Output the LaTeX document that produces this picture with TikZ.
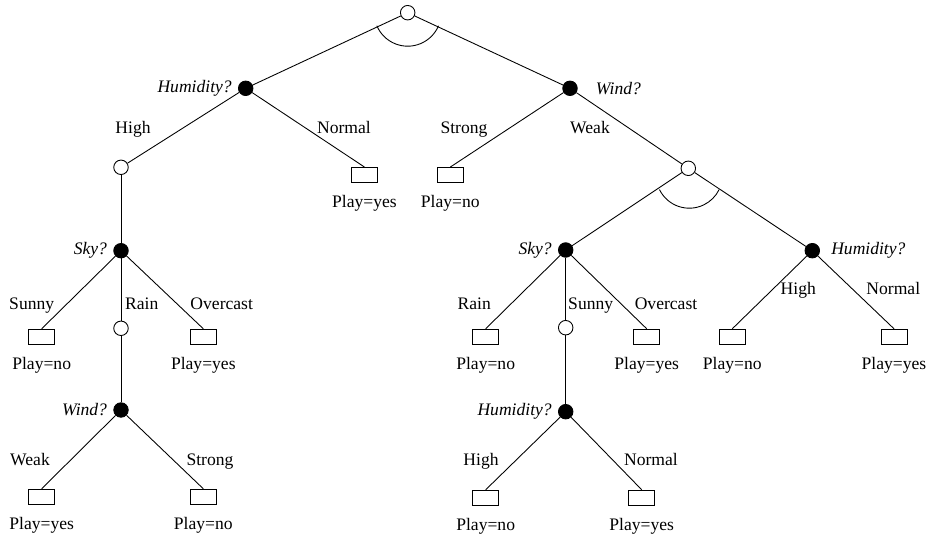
\documentclass[tikz,border=0pt]{standalone}
\usepackage{fontspec}
\setmainfont{Liberation Serif}
\begin{document}
\begin{tikzpicture}[x=0.02cm, y=-0.02cm, line width=0.5pt,
    font=\fontsize{10}{12}\selectfont,
    andnode/.style={circle, draw, fill=white, minimum size=0.29cm, inner sep=0pt},
    attr/.style={circle, draw, fill=black, minimum size=0.29cm, inner sep=0pt},
    question/.style={font=\fontsize{10}{12}\selectfont\itshape},
    askleft/.style={attr, label={[question]left:#1}},
    askright/.style={attr, label={[question, label distance=0.1cm]right:#1}},
    outcome/.style={label distance=0.12cm},
    leaf/.style={draw, rectangle, minimum width=0.52cm, minimum height=0.3cm,
                 inner sep=0pt, label={[outcome]below:Play=#1}},
    branch/.style={anchor=base, inner sep=0pt}]

    \useasboundingbox (0,0) rectangle (938,537);

    % Root
    \node[andnode] (root) at (407.7,12.7) {};
    \node[askleft=Humidity?] (hum) at (245.7,88.3) {};
    \node[attr, label={[question, label distance=0.24cm]right:Wind?}] (wind) at (570,88.3) {};
    \draw (root) -- (hum);
    \draw (root) -- (wind);
    % and-arcs
    \draw (root.center) ++(203:0.67cm) arc[start angle=203, end angle=337, radius=0.67cm];

    % Humidity branches
    \node[andnode] (andL) at (121,167.3) {};
    \node[leaf=yes] (leafN) at (364.5,175) {};
    \draw (hum) -- (andL);
    \draw (hum) -- (leafN.north);
    \node[branch] (bHigh) at (133,134) {High};
    \node[branch] (bNormal) at (344,134) {Normal};

    % Wind branches
    \node[leaf=no] (leafS) at (450.3,175) {};
    \node[andnode] (andR) at (688.3,168.3) {};
    \draw (wind) -- (leafS.north);
    \draw (wind) -- (andR);
    \node[branch] (bStrong) at (464,134) {Strong};
    \node[branch] (bWeak) at (590,134) {Weak};

    % Left subtree
    \node[askleft=Sky?] (skyL) at (121,250.7) {};
    \node[leaf=no] (leafLS) at (41.7,336.7) {};
    \node[andnode] (andLR) at (121,328.3) {};
    \node[leaf=yes] (leafLO) at (203.3,336.7) {};
    \draw (andL) -- (skyL);
    \draw (skyL) -- (leafLS.north);
    \draw (skyL) -- (andLR);
    \draw (skyL) -- (leafLO.north);
    \node[branch] (bSunnyL) at (31.7,310) {Sunny};
    \node[branch] (bRainL) at (141.7,310) {Rain};
    \node[branch] (bOverL) at (221.7,310) {Overcast};

    \node[askleft=Wind?] (windL) at (121,410) {};
    \node[leaf=yes] (leafLW) at (41.7,496.7) {};
    \node[leaf=no] (leafLSt) at (203.3,496.7) {};
    \draw (andLR) -- (windL);
    \draw (windL) -- (leafLW.north);
    \draw (windL) -- (leafLSt.north);
    \node[branch] (bWeakL) at (30,465.3) {Weak};
    \node[branch] (bStrongL) at (210,465.3) {Strong};

    % Right subtree
    \node[askleft=Sky?] (skyR) at (565.7,250) {};
    \node[askright=Humidity?] (humR) at (812.3,250.7) {};
    \draw (andR) -- (skyR);
    \draw (andR) -- (humR);
    \draw (andR.center) ++(1,6.7) coordinate (arcR)
          ++(206:0.664cm) arc[start angle=206, end angle=334, radius=0.664cm];

    \node[leaf=no] (leafRR) at (485.7,336.7) {};
    \node[andnode] (andRS) at (565.7,327.7) {};
    \node[leaf=yes] (leafRO) at (646.7,336.7) {};
    \draw (skyR) -- (leafRR.north);
    \draw (skyR) -- (andRS);
    \draw (skyR) -- (leafRO.north);
    \node[branch] (bRainR) at (474.3,309.3) {Rain};
    \node[branch] (bSunnyR) at (590.7,309.3) {Sunny};
    \node[branch] (bOverR) at (666,309.3) {Overcast};

    \node[askleft=Humidity?] (humRL) at (565.7,411.7) {};
    \node[leaf=no] (leafRH) at (485.7,497.7) {};
    \node[leaf=yes] (leafRN) at (641.7,497.7) {};
    \draw (andRS) -- (humRL);
    \draw (humRL) -- (leafRH.north);
    \draw (humRL) -- (leafRN.north);
    \node[branch] (bHighRL) at (481,465.3) {High};
    \node[branch] (bNormalRL) at (651,465.3) {Normal};

    \node[leaf=no] (leafHH) at (732.3,336.7) {};
    \node[leaf=yes] (leafHN) at (894,336.7) {};
    \draw (humR) -- (leafHH.north);
    \draw (humR) -- (leafHN.north);
    \node[branch] (bHighR) at (798.3,294.3) {High};
    \node[branch] (bNormalR) at (893.3,294.3) {Normal};

\end{tikzpicture}
\end{document}
